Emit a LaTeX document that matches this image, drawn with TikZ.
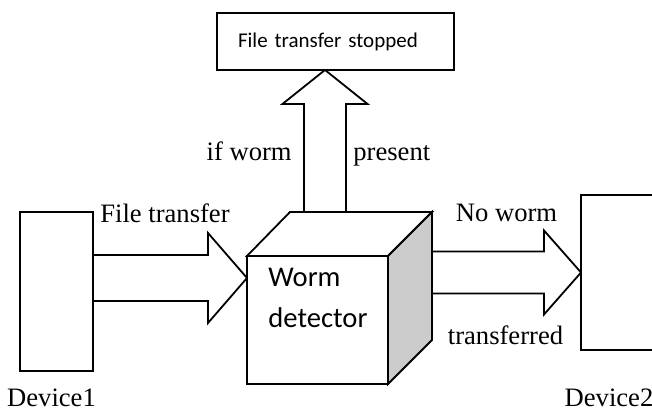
\documentclass[tikz,border=0pt]{standalone}
\usepackage{fontspec}
\setmainfont{Liberation Serif}
\newfontfamily\carlito{Carlito}
\usetikzlibrary{calc}

\tikzset{
  box/.style={draw, line width=.9pt, inner sep=0pt, outer sep=0pt},
  fat/.style={draw, line width=.9pt, line join=miter},
  lbl/.style={font=\fontsize{13.3}{16}\selectfont, inner sep=0pt},
  sans/.style={font=\carlito\fontsize{14.3}{17}\selectfont, inner sep=0pt},
}

% block arrow: from, tip, half shaft, half head, head length
\newcommand{\fatarrow}[5]{%
  \coordinate (fb) at ($(#2)!#5!(#1)$);
  \draw[fat] ($(#1)!#3!90:(#2)$) -- ($(fb)!#3!90:(#2)$) -- ($(fb)!#4!90:(#2)$)
    -- (#2) -- ($(fb)!#4!-90:(#2)$) -- ($(fb)!#3!-90:(#2)$) -- ($(#1)!#3!-90:(#2)$);
}

\begin{document}
\begin{tikzpicture}[x=.5pt, y=.5pt]
  \useasboundingbox (0,0) rectangle (652,410);
  \clip (0,0) rectangle (652,410);

  % devices
  \node[box, minimum width=36.5pt, minimum height=79.5pt] (dev1) at (56.5,118.5) {};
  \node[box, minimum width=59.5pt, minimum height=77.5pt] (dev2) at (640.5,137.5) {};
  \node[lbl, anchor=base] (dev1lbl) at (51.5,3) {Device1};
  \node[lbl, anchor=base] (dev2lbl) at (609,3) {Device2};

  % detector cube
  \node[box, fill=white, minimum width=70.5pt, minimum height=64pt] (det) at (317.5,90) {};
  \coordinate (bl) at ($(det.north west)+(43,44)$);
  \coordinate (br) at ($(det.north east)+(44,44)$);
  \coordinate (bb) at ($(det.south east)+(44,44)$);
  \draw[box, fill=white] (det.north west) -- (bl) -- (br) -- (det.north east) -- cycle;
  \draw[box, fill=black!20] (det.north east) -- (br) -- (bb) -- (det.south east) -- cycle;
  \node[sans, anchor=base west] (worm) at (268,123) {Worm};
  \node[sans, anchor=base west] (detect) at (268,82) {detector};

  % result box
  \node[box, minimum width=118.5pt, minimum height=28.5pt, text width=97.5pt,
        align=left, font=\carlito\fontsize{10.5}{12}\selectfont]
        (stop) at (335.5,368.5) {File transfer stopped};

  % arrows
  \coordinate (inL) at ($(det.west)+(0,42)$);
  \coordinate (l0) at (dev1.east |- inL);
  \fatarrow{l0}{inL}{11.5pt}{22.5pt}{19.5pt}
  \coordinate (r0) at (br |- dev2.west);
  \fatarrow{r0}{dev2.west}{10.5pt}{21pt}{18.5pt}
  \coordinate (u0) at ($(bl)+(35,0)$);
  \coordinate (u1) at (u0 |- stop.south);
  \fatarrow{u0}{u1}{10.5pt}{21.25pt}{17pt}

  % labels
  \node[lbl, anchor=base] (ft) at (165,187) {File transfer};
  \node[lbl, anchor=base] (nw) at (506.5,188) {No worm};
  \node[lbl, anchor=base] (tr) at (505.5,65) {transferred};
  \node[lbl, anchor=base east] (ifw) at (292,249) {if worm};
  \node[lbl, anchor=base west] (pres) at (353,249) {present};
\end{tikzpicture}
\end{document}
